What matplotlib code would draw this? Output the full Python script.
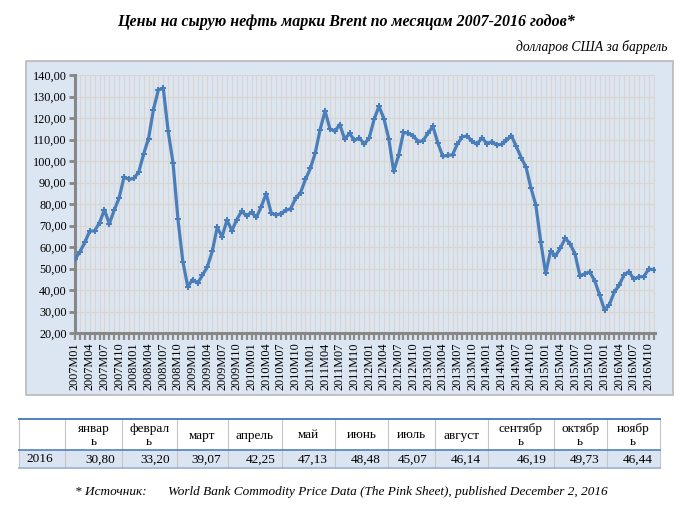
import matplotlib.pyplot as plt
import numpy as np
from matplotlib.patches import Rectangle
from matplotlib.ticker import FixedLocator, FuncFormatter

# monthly Brent price, USD per barrel, 2007M01 .. 2016M11
years = list(range(2007, 2017))
brent = [
    54.30, 57.76, 62.14, 67.40, 67.48, 71.32, 77.20, 70.80, 77.13, 82.86, 92.53, 91.45,
    91.92, 94.82, 103.28, 110.44, 123.94, 133.05, 133.90, 113.85, 99.06, 72.84, 53.24, 41.58,
    44.86, 43.24, 46.84, 50.85, 58.00, 69.12, 64.83, 72.51, 67.65, 72.77, 76.66, 74.46,
    76.17, 73.75, 78.83, 84.82, 75.95, 74.76, 75.58, 77.04, 77.84, 82.67, 85.28, 91.45,
    96.52, 103.72, 114.64, 123.26, 114.99, 113.83, 116.97, 110.22, 112.83, 109.55, 110.77, 107.87,
    110.69, 119.33, 125.45, 119.75, 110.34, 95.16, 102.62, 113.36, 112.86, 111.71, 109.06, 109.49,
    112.96, 116.05, 108.47, 102.25, 102.56, 102.92, 107.93, 111.28, 111.60, 109.08, 107.79, 110.76,
    108.12, 108.90, 107.48, 107.76, 109.54, 111.80, 106.77, 101.61, 97.09, 87.43, 79.44, 62.34,
    47.76, 58.10, 55.89, 59.52, 64.08, 61.48, 56.56, 46.52, 47.62, 48.43, 44.27, 37.72,
    30.80, 33.20, 39.07, 42.25, 47.13, 48.48, 45.07, 46.14, 46.19, 49.73, 49.50,
]
month_labels = [f"{y}M{m:02d}" for y in years for m in range(1, 13)][:len(brent)]
y_ticks = [20, 30, 40, 50, 60, 70, 80, 90, 100, 110, 120, 130, 140]

# table under the chart
table_year = "2016"
table_months = ["январ\nь", "феврал\nь", "март", "апрель", "май", "июнь", "июль",
                "август", "сентябр\nь", "октябр\nь", "ноябр\nь"]
table_values = [30.80, 33.20, 39.07, 42.25, 47.13, 48.48, 45.07, 46.14, 46.19, 49.73, 46.44]

title = "Цены на сырую нефть марки Brent по месяцам 2007-2016 годов*"
units = "долларов США за баррель"
source_head = "* Источник:"
source_text = "World Bank Commodity Price Data (The Pink Sheet), published December 2, 2016"

W, H = 692, 512
bg = '#dce6f2'
serif = 'Liberation Serif'

fig = plt.figure(figsize=(W / 100, H / 100), dpi=100)
fig.patch.set_facecolor('white')

# overlay in pixel coords for frame, titles and table
ov = fig.add_axes([0, 0, 1, 1], zorder=-1)
ov.set_xlim(0, W)
ov.set_ylim(H, 0)
ov.axis('off')
ov.add_patch(Rectangle((26, 60.5), 647, 334.5, facecolor=bg, edgecolor='#b9b9b9', lw=1.2))

ov.text(346, 21.5, title, ha='center', va='center', family=serif, fontsize=11.5,
        fontweight='bold', fontstyle='italic')
ov.text(667, 47, units, ha='right', va='center', family=serif, fontsize=9.8, fontstyle='italic')

# chart
ax = fig.add_axes([75 / W, (H - 333) / H, 580 / W, 258 / H])
ax.set_facecolor(bg)
x = np.arange(len(brent))
ax.plot(x, brent, color='#4a7ebb', lw=2.3, marker='P', ms=4.5, mew=0, zorder=3,
        solid_joinstyle='round')
ax.set_xlim(0, len(brent) - 0.7)
ax.set_ylim(20, 140)

ax.yaxis.set_major_locator(FixedLocator(y_ticks))
ax.yaxis.set_major_formatter(FuncFormatter(lambda v, p: f"{v:.2f}".replace('.', ',')))
ax.xaxis.set_major_locator(FixedLocator(x[::3]))
ax.set_xticklabels(month_labels[::3], rotation=90)
ax.xaxis.set_minor_locator(FixedLocator(x))

ax.grid(True, which='both', color='#dad6cf', lw=0.9, zorder=0)
ax.set_axisbelow(True)
for s in ['top', 'right']:
    ax.spines[s].set_visible(False)
for s in ['left', 'bottom']:
    ax.spines[s].set_color('#878787')
    ax.spines[s].set_linewidth(2.2)
ax.tick_params(axis='y', direction='out', length=4, width=2, color='#878787', pad=2,
               labelsize=8.8, labelfontfamily=serif)
ax.tick_params(axis='x', which='both', direction='out', length=5, width=1.6, color='#8c8c8c',
               pad=2, labelsize=8.8, labelfontfamily=serif)

# table
col_edges = [18.5, 65, 121.7, 176.7, 228, 282, 335, 388, 434.7, 487.6, 553.8, 606.8, 659.8]
top, mid, bot = 419, 450, 467.5
ov.add_patch(Rectangle((col_edges[0], mid), col_edges[-1] - col_edges[0], bot - mid,
                       facecolor='#dbe5f1', edgecolor='none'))
for ex in col_edges:
    ov.plot([ex, ex], [top, bot], color='#c6c6c6', lw=0.8)
ov.plot([col_edges[0], col_edges[-1]], [top, top], color='#4f81bd', lw=1.4)
ov.plot([col_edges[0], col_edges[-1]], [mid, mid], color='#4f81bd', lw=1.2)
ov.plot([col_edges[0], col_edges[-1]], [bot, bot], color='#95b3d7', lw=1.2)

ov.text(col_edges[0] + 8, (mid + bot) / 2 + 0.5, table_year, ha='left', va='center',
        family=serif, fontsize=9.5)
for i, (lab, val) in enumerate(zip(table_months, table_values)):
    x0, x1 = col_edges[i + 1], col_edges[i + 2]
    ov.text((x0 + x1) / 2, (top + mid) / 2 + 1, lab, ha='center', va='center',
            multialignment='center', linespacing=1.15, family=serif, fontsize=9.5)
    ov.text(x1 - 7, (mid + bot) / 2 + 0.5, f"{val:.2f}".replace('.', ','), ha='right',
            va='center', family=serif, fontsize=9.5)

ov.text(75, 492, source_head, ha='left', va='center', family=serif, fontsize=9.5,
        fontstyle='italic')
ov.text(168, 492, source_text, ha='left', va='center', family=serif, fontsize=9.5,
        fontstyle='italic')

fig.savefig('out.png', dpi=100, facecolor='white')
